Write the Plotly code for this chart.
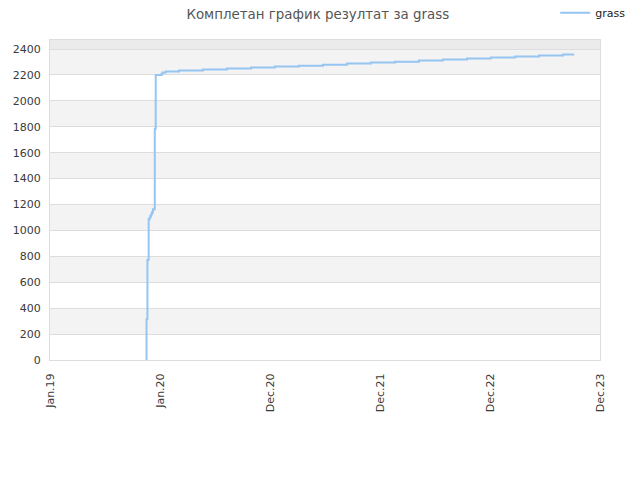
import plotly.graph_objects as go

# step data (date, cumulative score)
dates = [
    "2019-11-12", "2019-11-12", "2019-11-15", "2019-11-19", "2019-11-21",
    "2019-11-24", "2019-11-27", "2019-11-30", "2019-12-03", "2019-12-09",
    "2019-12-12", "2019-12-31", "2020-01-04", "2020-01-14", "2020-02-26",
    "2020-05-14", "2020-07-31", "2020-10-18", "2021-01-04", "2021-03-23",
    "2021-06-10", "2021-08-27", "2021-11-13", "2022-01-31", "2022-04-19",
    "2022-07-06", "2022-09-23", "2022-12-10", "2023-02-27", "2023-05-16",
    "2023-08-02", "2023-09-08",
]
scores = [
    0, 314, 772, 1086, 1095,
    1110, 1125, 1140, 1163, 1785,
    2200, 2210, 2220, 2226, 2234,
    2242, 2250, 2257, 2265, 2271,
    2279, 2288, 2296, 2303, 2311,
    2320, 2328, 2335, 2343, 2351,
    2359, 2359,
]

tick_dates = ["2019-01-01", "2019-12-26", "2020-12-19", "2021-12-13", "2022-12-07", "2023-12-01"]
tick_labels = ["Jan.19", "Jan.20", "Dec.20", "Dec.21", "Dec.22", "Dec.23"]
y_ticks = list(range(0, 2401, 200))
y_max = 2470

fig = go.Figure()
fig.add_trace(go.Scatter(
    x=dates, y=scores, mode="lines", name="grass",
    line=dict(color="#96c5f2", width=2, shape="hv"),
))

# alternating grey bands behind the plot
shapes = []
for lo in y_ticks[1::2]:
    shapes.append(dict(type="rect", xref="paper", yref="y", x0=0, x1=1, y0=lo, y1=lo + 200,
                       fillcolor="#f3f3f3", line_width=0, layer="below"))
shapes.append(dict(type="rect", xref="paper", yref="y", x0=0, x1=1, y0=2400, y1=y_max,
                   fillcolor="#ebebeb", line_width=0, layer="below"))
fig.update_layout(shapes=shapes)

fig.update_layout(
    width=640, height=480,
    margin=dict(l=42, r=48, t=32, b=128, autoexpand=False),
    paper_bgcolor="white", plot_bgcolor="white",
    font=dict(family="DejaVu Sans", size=11, color="#3a3a3a"),
    title=dict(text="Комплетан график резултат за grass", x=0.484, y=0.986, xanchor="center",
               yanchor="middle", font=dict(size=13.4, color="#555"), automargin=False),
    showlegend=True,
    legend=dict(x=0.855, y=0.99, xref="container", yref="container", xanchor="left",
                yanchor="middle", bgcolor="rgba(0,0,0,0)", itemwidth=30,
                font=dict(size=11, color="#222")),
    xaxis=dict(type="date", range=["2019-01-01", "2023-12-01"], tickvals=tick_dates,
               ticktext=tick_labels, tickangle=-90, showgrid=False, zeroline=False,
               showline=True, linecolor="#ddd", mirror=True, ticks="", automargin=False,
               ticklabelstandoff=8),
    yaxis=dict(range=[0, y_max], tickvals=y_ticks, showgrid=True, gridcolor="#dddddd",
               zeroline=False, showline=True, linecolor="#ddd", mirror=True, ticks="",
               automargin=False, ticklabelstandoff=6),
)

fig.write_html("out.html")
